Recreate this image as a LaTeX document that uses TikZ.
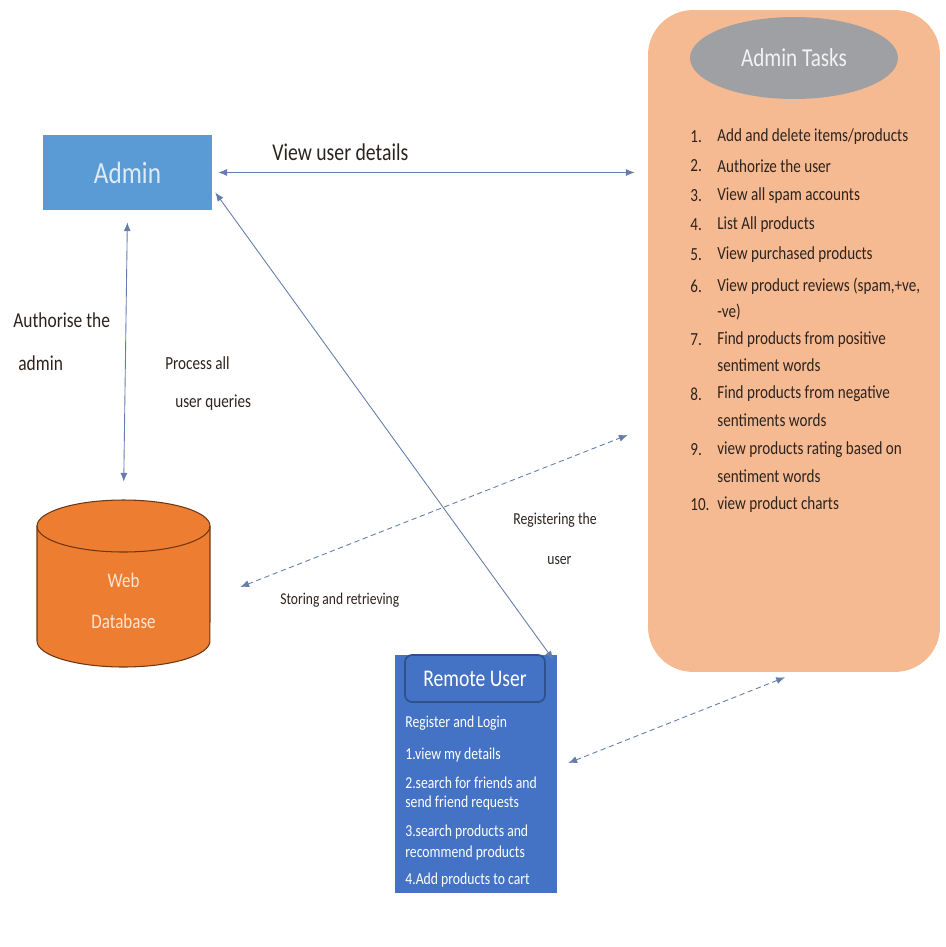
\documentclass[tikz,border=0pt]{standalone}
\usepackage{fontspec}
\setmainfont{Carlito}[FakeStretch=0.82]
\usetikzlibrary{arrows.meta,shapes.geometric}

\definecolor{adminc}{RGB}{91,155,213}
\definecolor{remotec}{RGB}{68,114,196}
\definecolor{remotedark}{RGB}{47,82,143}
\definecolor{dbc}{RGB}{237,125,49}
\definecolor{dbline}{RGB}{110,55,20}
\definecolor{peach}{RGB}{246,186,146}
\definecolor{taskgrey}{RGB}{158,160,164}
\definecolor{linkc}{RGB}{100,125,170}
\definecolor{textc}{RGB}{45,35,30}

\begin{document}
\begin{tikzpicture}[x=0.02cm,y=-0.02cm,
  link/.style={linkc, line width=0.5pt, >={Latex[length=5pt,width=4pt]}, <->},
  linkd/.style={link, densely dashed},
  lbl/.style={anchor=west, inner sep=0pt, textc},
  task/.style={anchor=west, inner sep=0pt, textc, font=\fontsize{10.5}{12}\selectfont},
  ritem/.style={anchor=west, inner sep=0pt, text=white, font=\fontsize{9.5}{11}\selectfont},
  dbend/.style={x radius=1.73cm, y radius=0.52cm}]
\useasboundingbox (0,0) rectangle (946,947);

\node[fill=adminc, minimum width=3.38cm, minimum height=1.5cm, text={rgb,255:red,222;green,235;blue,247},
  font=\fontsize{17.5}{20}\selectfont] (admin) at (127.5,172.5) {Admin};

\node[fill=peach, rounded corners=0.9cm, minimum width=5.84cm, minimum height=13.24cm] (tasks) at (794,341) {};
\node[ellipse, fill=taskgrey, minimum width=4.16cm, minimum height=1.64cm, text={rgb,255:red,242;green,242;blue,242},
  font=\fontsize{14.7}{17}\selectfont] (tasktitle) at (794,58) {Admin Tasks};

\node[task] (n1) at (690,137) {1.};   \node[task] (t1) at (717,137) {Add and delete items/products};
\node[task] (n2) at (690,166) {2.};   \node[task] (t2) at (717,166) {Authorize the user};
\node[task] (n3) at (690,196) {3.};   \node[task] (t3) at (717,196) {View all spam accounts};
\node[task] (n4) at (690,225) {4.};   \node[task] (t4) at (717,225) {List All products};
\node[task] (n5) at (690,255) {5.};   \node[task] (t5) at (717,255) {View purchased products};
\node[task] (n6) at (690,286) {6.};   \node[task] (t6) at (717,286) {View product reviews (spam,+ve,};
\node[task] (t6b) at (717,312) {-ve)};
\node[task] (n7) at (690,340) {7.};   \node[task] (t7) at (717,340) {Find products from positive};
\node[task] (t7b) at (717,365) {sentiment words};
\node[task] (n8) at (690,394) {8.};   \node[task] (t8) at (717,394) {Find products from negative};
\node[task] (t8b) at (717,420) {sentiments words};
\node[task] (n9) at (690,450) {9.};   \node[task] (t9) at (717,450) {view products rating based on};
\node[task] (t9b) at (717,476) {sentiment words};
\node[task] (n10) at (690,505) {10.}; \node[task] (t10) at (717,505) {view product charts};

% web database drum
\filldraw[fill=dbc, draw=dbline, line width=0.6pt] (37,526) -- (37,641) arc[start angle=180, end angle=360, dbend]
  -- (210,526) arc[start angle=0, end angle=180, dbend] -- cycle;
\draw[dbline, line width=0.6pt] (37,526) arc[start angle=180, end angle=360, dbend];
\node[minimum width=3.46cm, minimum height=3.34cm, inner sep=0pt] (db) at (123.5,583.5) {};
\node[align=center, text={rgb,255:red,251;green,229;blue,214}, font=\fontsize{11.8}{14}\selectfont] (dblabel)
  at (123.5,601) {Web\\[9pt]Database};

\node[fill=remotec, minimum width=3.24cm, minimum height=4.76cm] (ruser) at (476,774) {};
\node[fill=remotec, draw=remotedark, line width=1pt, rounded corners=4pt, minimum width=2.8cm, minimum height=0.94cm,
  text=white, font=\fontsize{13.6}{16}\selectfont] (rtitle) at (475,678.5) {Remote User};
\node[ritem] (r0) at (405,723) {Register and Login};
\node[ritem] (r1) at (405,755) {1.view my details};
\node[ritem] (r2) at (405,783) {2.search for friends and};
\node[ritem] (r2b) at (405,803) {send friend requests};
\node[ritem] (r3) at (405,832) {3.search products and};
\node[ritem] (r3b) at (405,853) {recommend products};
\node[ritem] (r4) at (405,880) {4.Add products to cart};

\draw[link] ([xshift=0.12cm]admin.east) -- ([xshift=-0.26cm]admin.east -| tasks.west);
\draw[link, shorten <=0.24cm, shorten >=0.36cm] (admin.south) -- (db.north);
\draw[link] ([shift={(3,20)}]admin.east) -- ([shift={(-4,5)}]ruser.north east);
\draw[linkd] ([shift={(30,3.5)}]db.east) -- ([shift={(-20,94)}]tasks.west);
\draw[linkd] ([shift={(11,-11)}]ruser.east) -- ([shift={(-9,5)}]tasks.south);

\node[lbl, font=\fontsize{13.7}{16}\selectfont] (lview) at (272,152) {View user details};
\node[lbl, font=\fontsize{12.1}{14}\selectfont] (lauth) at (13,320) {Authorise the};
\node[lbl, font=\fontsize{12.1}{14}\selectfont] (lauthb) at (18,363) {admin};
\node[lbl, font=\fontsize{10.5}{12}\selectfont] (lproc) at (165,363) {Process all};
\node[lbl, font=\fontsize{10.5}{12}\selectfont] (lprocb) at (175,403) {user queries};
\node[lbl, font=\fontsize{9.5}{11}\selectfont] (lreg) at (513,520) {Registering the};
\node[lbl, font=\fontsize{9.5}{11}\selectfont] (lregb) at (547,560) {user};
\node[lbl, font=\fontsize{9.4}{11}\selectfont] (lstore) at (280,600) {Storing and retrieving};
\end{tikzpicture}
\end{document}
